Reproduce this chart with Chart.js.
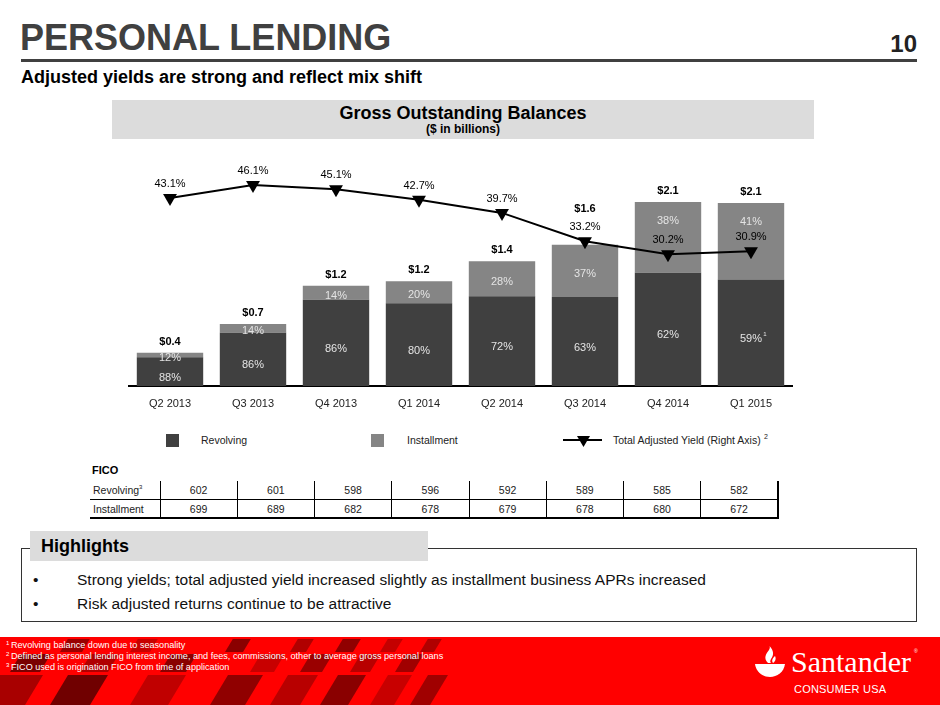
<!DOCTYPE html>
<html>
<head>
<meta charset="utf-8">
<title>Personal Lending</title>
<script src="https://cdn.jsdelivr.net/npm/chart.js@4.4.1/dist/chart.umd.min.js"></script>
<style>
    body { margin: 0; width: 940px; height: 705px; position: relative; overflow: hidden; background: #fff;
           font-family: "Liberation Sans", Arial, sans-serif; color: #000; }
    .abs { position: absolute; line-height: 1; white-space: nowrap; }
    #title { left: 20px; top: 20px; font-size: 36px; font-weight: bold; color: #404040; }
    #pageno { right: 23px; top: 32px; font-size: 24px; font-weight: bold; color: #222; }
    #rule { left: 21px; top: 59px; width: 896px; height: 3px; background: #404040; }
    #subtitle { left: 21px; top: 68px; font-size: 18px; font-weight: bold; }
    #boxhead { left: 112px; top: 100px; width: 702px; height: 39px; background: #dcdcdc; text-align: center; }
    #boxhead .t1 { position: absolute; left: 0; right: 0; top: 4px; font-size: 18px; font-weight: bold; }
    #boxhead .t2 { position: absolute; left: 0; right: 0; top: 23px; font-size: 12px; font-weight: bold; }
    #chartBox { position: absolute; left: 100px; top: 145px; width: 720px; height: 287px; }
    .lg-box { position: absolute; width: 13px; height: 13px; }
    .lg-txt { font-size: 10.5px; color: #222; }
    #fico { left: 92px; top: 465px; font-size: 11px; font-weight: bold; }
    #ficoTable { position: absolute; left: 90px; top: 481px; border-collapse: collapse; table-layout: fixed;
                 font-size: 10.5px; color: #222; }
    #ficoTable td { padding: 0; text-align: center; border-left: 1.5px solid #000; }
    #ficoTable td.lab { text-align: left; padding-left: 3px; border-left: none; }
    #ficoTable tr.r1 td { height: 18px; border-bottom: 1px solid #000; }
    #ficoTable tr.r2 td { height: 17px; border-bottom: 2px solid #000; }
    #ficoTable td.last { border-right: 2px solid #000; }
    sup { font-size: 6px; vertical-align: 5px; line-height: 0; }
    #hlBox { position: absolute; left: 21px; top: 548px; width: 894px; height: 72px; border: 1.5px solid #333; }
    #hlTab { position: absolute; left: 30px; top: 531px; width: 398px; height: 30px; background: #dcdcdc; }
    #hlTab span { position: absolute; left: 11px; top: 6px; font-size: 18px; font-weight: bold; line-height: 1; }
    .bullet { font-size: 15.5px; color: #111; }
    #footer { position: absolute; left: 0; top: 637px; width: 940px; height: 68px; background: #ff0000; overflow: hidden; }
    .fn { position: absolute; left: 11px; font-size: 9.1px; color: #fff; line-height: 1; white-space: nowrap; }
    .fn sup { position: absolute; left: -5px; top: -1px; font-size: 6px; vertical-align: 0; line-height: 1; }
    #brand { position: absolute; left: 791px; top: 10px; font-family: "Liberation Serif", "DejaVu Serif", serif;
             font-size: 30px; color: #fff; line-height: 1; }
    #brand2 { position: absolute; left: 794px; top: 47px; font-size: 11px; color: #fff; line-height: 1; letter-spacing: 0.2px; }
</style>
</head>
<body>
    <div id="title" class="abs">PERSONAL LENDING</div>
    <div id="pageno" class="abs">10</div>
    <div id="rule" class="abs"></div>
    <div id="subtitle" class="abs">Adjusted yields are strong and reflect mix shift</div>
    <div id="boxhead" class="abs">
        <div class="t1">Gross Outstanding Balances</div>
        <div class="t2">($ in billions)</div>
    </div>

    <div id="chartBox"><canvas id="balances"></canvas></div>

    <!-- legend -->
    <div class="lg-box" style="left:166px;top:434px;background:#404040"></div>
    <div class="abs lg-txt" style="left:201px;top:435px">Revolving</div>
    <div class="lg-box" style="left:371px;top:434px;background:#858585"></div>
    <div class="abs lg-txt" style="left:407px;top:435px">Installment</div>
    <svg class="abs" style="left:560px;top:432px" width="46" height="18">
        <line x1="3" y1="8" x2="42" y2="8" stroke="#000" stroke-width="2"></line>
        <polygon points="17,4 30,4 23.5,15" fill="#000"></polygon>
    </svg>
    <div class="abs lg-txt" style="left:613px;top:435px">Total Adjusted Yield (Right Axis)</div>
    <div class="abs" style="left:764px;top:433px;font-size:7px;color:#222">2</div>

    <div id="fico" class="abs">FICO</div>
    <table id="ficoTable"></table>

    <div id="hlBox"></div>
    <div id="hlTab"><span>Highlights</span></div>
    <div class="abs bullet" style="left:33px;top:572px">•</div>
    <div class="abs bullet" style="left:77px;top:572px">Strong yields; total adjusted yield increased slightly as installment business APRs increased</div>
    <div class="abs bullet" style="left:33px;top:596px">•</div>
    <div class="abs bullet" style="left:77px;top:596px">Risk adjusted returns continue to be attractive</div>

    <div id="footer">
        <svg id="tiles" width="940" height="68" style="position:absolute;left:0;top:0"></svg>
        <div class="fn" style="top:4px"><sup>1</sup>Revolving balance down due to seasonality</div>
        <div class="fn" style="top:15px"><sup>2</sup>Defined as personal lending interest income, and fees, commissions, other to average gross personal loans</div>
        <div class="fn" style="top:26px"><sup>3</sup>FICO used is origination FICO from time of application</div>
        <svg style="position:absolute;left:753px;top:9px" width="34" height="32">
            <path d="M2 18 L32 18 C31 26 24 31 17 31 C10 31 3 26 2 18 Z" fill="#fff"></path>
            <path d="M15 17 C10 12 13 8 16 4 C17 2 17 1 16.5 0 C21 5 21 9 18 13 C17 15 17 16 18 17 Z" fill="#fff"></path>
            <path d="M20 17 C18 14 20 12 22 10 C23 12 23 15 20 17 Z" fill="#fff"></path>
        </svg>
        <div id="brand">Santander</div>
        <div class="abs" style="left:914px;top:12px;font-size:5px;color:#fff">®</div>
        <div id="brand2">CONSUMER USA</div>
    </div>

<script>
// values ($ billions, % and FICO scores)
var quarters = ['Q2 2013', 'Q3 2013', 'Q4 2013', 'Q1 2014', 'Q2 2014', 'Q3 2014', 'Q4 2014', 'Q1 2015'];
var revolving = [0.33, 0.61, 0.99, 0.95, 1.03, 1.02, 1.30, 1.22];
var installment = [0.05, 0.10, 0.16, 0.25, 0.40, 0.60, 0.81, 0.88];
var totalLabels = ['$0.4', '$0.7', '$1.2', '$1.2', '$1.4', '$1.6', '$2.1', '$2.1'];
var revolvingPct = ['88%', '86%', '86%', '80%', '72%', '63%', '62%', '59%'];
var revolvingNote = ['', '', '', '', '', '', '', '1'];
var installmentPct = ['12%', '14%', '14%', '20%', '28%', '37%', '38%', '41%'];
var yieldPct = [43.1, 46.1, 45.1, 42.7, 39.7, 33.2, 30.2, 30.9];
var ficoRevolving = [602, 601, 598, 596, 592, 589, 585, 582];
var ficoInstallment = [699, 689, 682, 678, 679, 678, 680, 672];

// FICO table
var table = document.getElementById('ficoTable');
var colgroup = '<colgroup><col style="width:70px">';
for (var c = 0; c < quarters.length; c++) colgroup += '<col style="width:77.25px">';
table.innerHTML = colgroup + '</colgroup>';
function addRow(cls, label, vals) {
    var html = '<tr class="' + cls + '"><td class="lab">' + label + '</td>';
    for (var i = 0; i < vals.length; i++) {
        html += '<td' + (i == vals.length - 1 ? ' class="last"' : '') + '>' + vals[i] + '</td>';
    }
    table.insertAdjacentHTML('beforeend', html + '</tr>');
}
addRow('r1', 'Revolving<sup>3</sup>', ficoRevolving);
addRow('r2', 'Installment', ficoInstallment);

// red footer pattern
var tiles = [
    [60, 2, 22, 13, '#9a0000'], [130, 2, 20, 13, '#c80000'], [225, 2, 18, 13, '#8a0000'], [290, 2, 16, 13, '#b00000'],
    [335, 2, 18, 13, '#900000'], [380, 2, 15, 13, '#c40000'], [420, 2, 14, 13, '#b00000'],
    [10, 17, 30, 18, '#7a0000'], [80, 17, 28, 18, '#b00000'], [160, 17, 26, 18, '#8a0000'], [250, 17, 24, 18, '#c80000'],
    [300, 17, 22, 18, '#9a0000'], [350, 17, 20, 18, '#b80000'], [395, 17, 18, 18, '#a00000'],
    [-20, 38, 45, 30, '#a80000'], [50, 38, 40, 30, '#700000'], [130, 38, 38, 30, '#c00000'], [210, 38, 35, 30, '#900000'],
    [270, 38, 30, 30, '#b80000'], [320, 38, 28, 30, '#8a0000'], [370, 38, 24, 30, '#c80000'], [410, 38, 20, 30, '#a00000']
];
var svg = document.getElementById('tiles');
tiles.forEach(function(t) {
    var s = t[3] * 0.6;
    var pts = (t[0] + s) + ',' + t[1] + ' ' + (t[0] + t[2] + s) + ',' + t[1] + ' ' + (t[0] + t[2]) + ',' + (t[1] + t[3]) + ' ' + t[0] + ',' + (t[1] + t[3]);
    var p = document.createElementNS('http://www.w3.org/2000/svg', 'polygon');
    p.setAttribute('points', pts);
    p.setAttribute('fill', t[4]);
    svg.appendChild(p);
});

// text drawn on the bars and above the markers
var slideLabels = {
    id: 'slideLabels',
    afterDatasetsDraw: function(chart) {
        var ctx = chart.ctx;
        var rev = chart.getDatasetMeta(0).data;
        var ins = chart.getDatasetMeta(1).data;
        var pts = chart.getDatasetMeta(2).data;
        ctx.save();
        ctx.textAlign = 'center';
        ctx.textBaseline = 'middle';
        for (var i = 0; i < quarters.length; i++) {
            var r = rev[i], n = ins[i], p = pts[i];
            ctx.fillStyle = '#e4e4e4';
            ctx.font = '11px "Liberation Sans", Arial, sans-serif';
            ctx.fillText(revolvingPct[i], r.x, (r.y + r.base) / 2 + 6);
            if (revolvingNote[i]) {
                var w = ctx.measureText(revolvingPct[i]).width;
                ctx.font = '6px "Liberation Sans", Arial, sans-serif';
                ctx.fillText(revolvingNote[i], r.x + w / 2 + 3, (r.y + r.base) / 2 + 2);
                ctx.font = '11px "Liberation Sans", Arial, sans-serif';
            }
            var h = n.base - n.y;
            var iy = h > 60 ? n.y + 19 : (n.y + n.base) / 2 + 3;
            ctx.fillText(installmentPct[i], n.x, iy);
            // yield label above its marker, total label above the bar (lifted over the yield label if they meet)
            var yy = p.y - 14;
            var ty = n.y - 11;
            if (Math.abs(ty - yy) < 13) ty = yy - 18;
            ctx.fillStyle = '#000';
            ctx.font = 'bold 11px "Liberation Sans", Arial, sans-serif';
            ctx.fillText(totalLabels[i], n.x, ty);
            ctx.font = '11px "Liberation Sans", Arial, sans-serif';
            ctx.fillText(yieldPct[i].toFixed(1) + '%', p.x, yy);
        }
        ctx.restore();
    }
};

var chart = new Chart(document.getElementById('balances'), {
    type: 'bar',
    data: {
        labels: quarters,
        datasets: [{
            label: 'Revolving',
            data: revolving,
            backgroundColor: '#404040',
            borderWidth: 0,
            order: 1
        }, {
            label: 'Installment',
            data: installment,
            backgroundColor: '#858585',
            borderWidth: 0,
            order: 1
        }, {
            type: 'line',
            label: 'Total Adjusted Yield (Right Axis)',
            data: yieldPct,
            yAxisID: 'y1',
            borderColor: '#000',
            borderWidth: 2,
            backgroundColor: '#000',
            pointStyle: 'triangle',
            pointRotation: 180,
            pointRadius: 8,
            pointBorderWidth: 0,
            tension: 0,
            order: 0
        }]
    },
    options: {
        responsive: true,
        maintainAspectRatio: false,
        animation: false,
        events: [],
        layout: { padding: { left: 28.5, right: 27.5, top: 23, bottom: 10.8 } },
        datasets: { bar: { barPercentage: 0.8, categoryPercentage: 1.0 } },
        plugins: { legend: { display: false }, tooltip: { enabled: false } },
        scales: {
            x: {
                stacked: true,
                grid: { display: false, drawTicks: false },
                border: { display: true, color: '#000', width: 2 },
                ticks: { color: '#222', padding: 11, font: { size: 11, family: '"Liberation Sans", Arial, sans-serif' } }
            },
            y: { stacked: true, display: false, min: 0, max: 2.5 },
            y1: { position: 'right', display: false, min: 0, max: 50 }
        }
    },
    plugins: [slideLabels]
});
</script>
</body>
</html>
